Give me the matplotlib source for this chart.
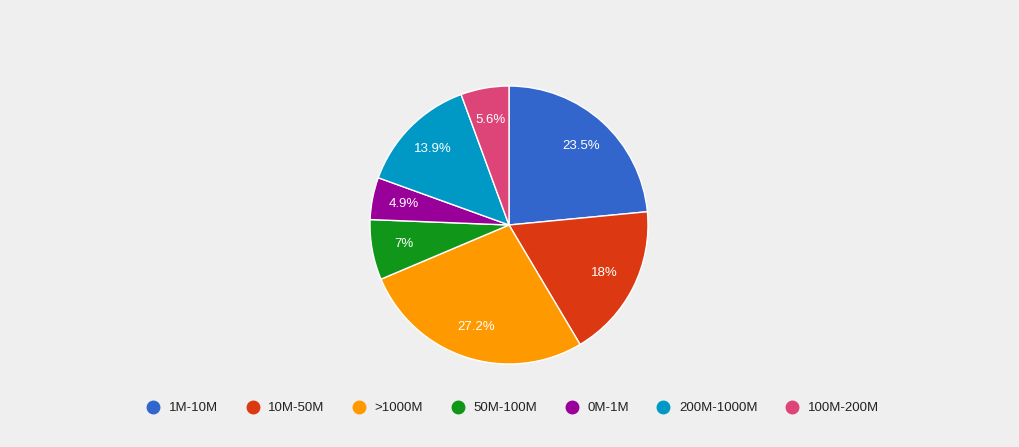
import matplotlib
matplotlib.use("Agg")
import matplotlib.pyplot as plt
from matplotlib.lines import Line2D

categories = ["1M-10M", "10M-50M", ">1000M", "50M-100M", "0M-1M", "200M-1000M", "100M-200M"]
values = [23.5, 18.0, 27.2, 7.0, 4.9, 13.9, 5.6]
colors = ["#3366cc", "#dc3912", "#ff9900", "#109618", "#990099", "#0099c6", "#dd4477"]

plt.rcParams["font.family"] = "Liberation Sans"
fig = plt.figure(figsize=(10.19, 4.47), dpi=100, facecolor="#efefef")
W, H = 1019, 447
cx, cy, r = 509, 225, 139
ax = fig.add_axes([(cx - r) / W, (H - cy - r) / H, 2 * r / W, 2 * r / H])
ax.set_facecolor("#efefef")

def fmt(p):
    s = f"{p:.1f}"
    return (s[:-2] if s.endswith(".0") else s) + "%"

total = sum(values)
wedges, texts, autotexts = ax.pie(values, colors=colors, startangle=90, counterclock=False,
    autopct=lambda p: fmt(p * total / 100), pctdistance=0.77,
    wedgeprops=dict(edgecolor="white", linewidth=1),
    textprops=dict(color="white", fontsize=9.5))
ax.set_xlim(-1, 1); ax.set_ylim(-1, 1)
ax.set_aspect("auto")
ax.axis("off")

handles = [Line2D([], [], marker="o", linestyle="", markersize=9, markerfacecolor=c,
                  markeredgecolor=c) for c in colors]
fig.legend(handles, categories, loc="center", bbox_to_anchor=(0.5, 1 - 408 / H), ncol=7,
           frameon=False, fontsize=9.5, handletextpad=0.2, columnspacing=1.6, labelcolor="#222222")
fig.savefig("out.png", dpi=100, facecolor="#efefef")
